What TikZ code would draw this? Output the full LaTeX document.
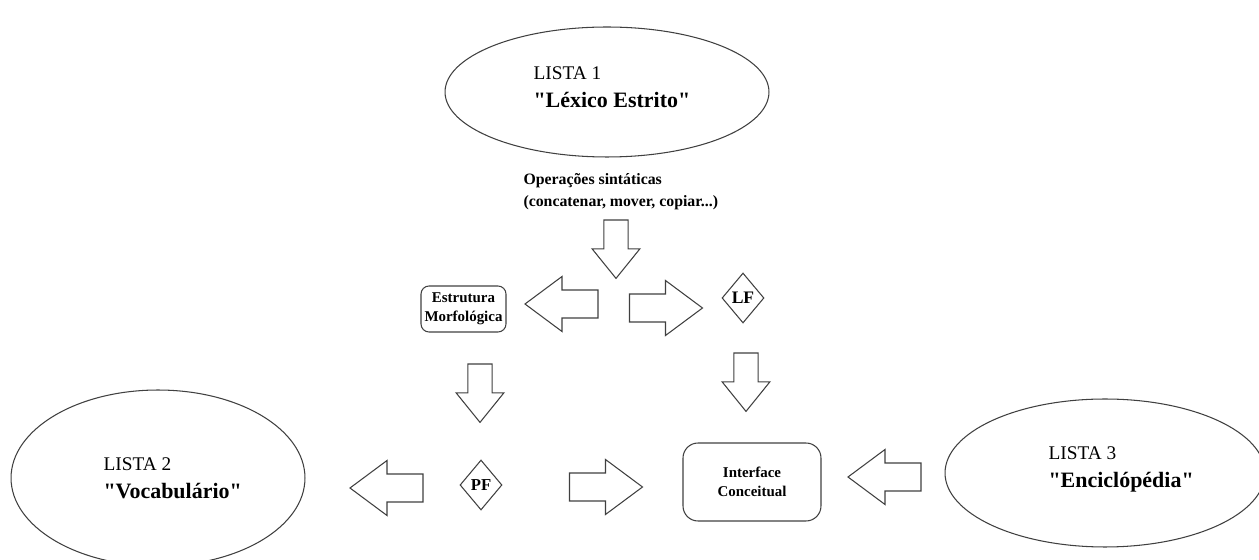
\documentclass[tikz,border=0pt]{standalone}
\usepackage{fontspec}
\setmainfont{Liberation Serif}
\newfontfamily\qfont{Liberation Serif}
\newcommand{\aspas}{{\qfont"}}
\usetikzlibrary{shapes.geometric}

\tikzset{
  lista/.style={draw=black!75, ellipse, inner sep=0pt},
  listatext/.style={anchor=west, align=left, inner sep=0pt, font=\fontsize{11}{16}\selectfont},
  caixa/.style={draw=black!75, rounded corners=0.16cm, inner sep=0pt, align=center, font=\bfseries\fontsize{8.5}{11}\selectfont},
  losango/.style={draw=black!75, diamond, inner sep=0pt, minimum width=0.84cm, minimum height=1cm},
  arrowline/.style={draw=black!75, fill=white},
  bigarrow/.pic={
    \path[arrowline] (0,-14) -- (36,-14) -- (36,-27.5) -- (73,0) -- (36,27.5) -- (36,14) -- (0,14) -- cycle;
  },
}

\begin{document}
\begin{tikzpicture}[x=0.02cm, y=-0.02cm, line width=0.6pt]
    \useasboundingbox (0,0) rectangle (1259,560);

    % the three lists
    \node[lista, minimum width=6.48cm, minimum height=2.6cm] (lexico) at (607,92) {};
    \node[listatext] (lexicotxt) at (533,87) {LISTA 1\\ {\bfseries\fontsize{12.5}{16}\selectfont \aspas Léxico Estrito\aspas}};

    \node[lista, minimum width=5.88cm, minimum height=3.52cm] (vocab) at (158,478) {};
    \node[listatext] (vocabtxt) at (103,478) {LISTA 2\\ {\bfseries\fontsize{12.5}{16}\selectfont \aspas Vocabulário\aspas}};

    \node[lista, minimum width=6.4cm, minimum height=2.96cm] (encic) at (1105,473) {};
    \node[listatext] (encictxt) at (1048,469) {LISTA 3\\ {\bfseries\fontsize{12.5}{16}\selectfont \aspas Enciclópédia\aspas}};

    \node[anchor=west, align=left, inner sep=0pt, font=\bfseries\fontsize{9}{12.5}\selectfont] (ops) at (523,192)
    {Operações sintáticas\\ (concatenar, mover, copiar...)};

    % middle part
    \node[caixa, minimum width=1.7cm, minimum height=0.92cm] (morfo) at (463.5,309) {Estrutura\\ Morfológica};
    \node[losango, font=\bfseries\fontsize{10}{12}\selectfont] (lf) at (743,298) {LF};
    \node[losango, font=\bfseries\fontsize{9.5}{12}\selectfont] (pf) at (481,485) {PF};
    \node[caixa, rounded corners=0.3cm, minimum width=2.76cm, minimum height=1.56cm] (interface) at (752,482) {Interface\\ Conceitual};

    % block arrows
    \pic[rotate=-90, xscale=0.8, yscale=0.87] at (616,220) {bigarrow};
    \pic[rotate=180] at (598,304) {bigarrow};
    \pic at (629.5,308) {bigarrow};
    \pic[rotate=-90, xscale=0.8, yscale=0.87] at (480,364) {bigarrow};
    \pic[rotate=-90, xscale=0.8, yscale=0.87] at (746,353) {bigarrow};
    \pic[rotate=180] at (423,488) {bigarrow};
    \pic at (569.5,487) {bigarrow};
    \pic[rotate=180] at (921,477) {bigarrow};

\end{tikzpicture}
\end{document}
